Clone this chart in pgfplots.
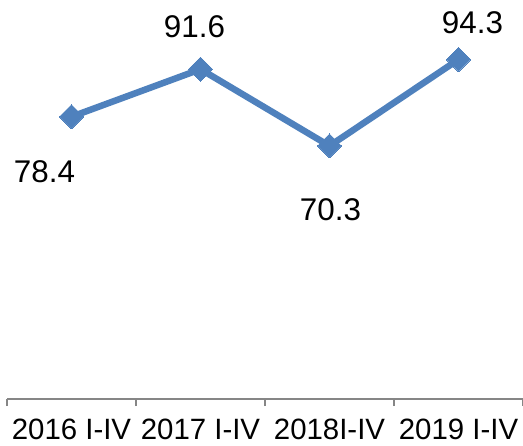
\documentclass[border=0pt]{standalone}
\usepackage{pgfplots}
\pgfplotsset{compat=1.18}
\usepackage{fontspec}
\setmainfont{Liberation Sans}
\definecolor{lineblue}{RGB}{79,129,189}
\definecolor{axisgray}{RGB}{134,134,134}
\begin{document}
\begin{tikzpicture}
\begin{axis}[
  name=ax,
  scale only axis,
  width=516bp, height=360bp,
  xmin=-0.5, xmax=3.5,
  ymin=0, ymax=100,
  hide y axis,
  axis x line=bottom,
  x axis line style={-, draw=axisgray, line width=1.3bp},
  xtick={-0.5,0.5,1.5,2.5,3.5},
  xticklabels={},
  tick align=outside,
  major tick length=7bp,
  every tick/.style={draw=axisgray, line width=1.3bp},
  extra x ticks={0,1,2,3},
  extra x tick labels={2016 I-IV,2017 I-IV,2018I-IV,2019 I-IV},
  extra x tick style={major tick length=0pt, tick label style={font=\fontsize{29.5}{33}\selectfont, yshift=-16bp}},
  clip=false,
]
\addplot[color=lineblue, line width=6.5bp, mark=square*, mark size=8.5bp,
  mark options={rotate=45, fill=lineblue, draw=lineblue, line width=0pt}]
  coordinates {(0,78.4) (1,91.6) (2,70.3) (3,94.3)};
\node[font=\fontsize{31.5}{35}\selectfont] at (axis cs:0,78.4) [xshift=-27bp, yshift=-55bp] {78.4};
\node[font=\fontsize{31.5}{35}\selectfont] at (axis cs:1,91.6) [xshift=-6bp, yshift=43bp] {91.6};
\node[font=\fontsize{31.5}{35}\selectfont] at (axis cs:2,70.3) [xshift=1bp, yshift=-64bp] {70.3};
\node[font=\fontsize{31.5}{35}\selectfont] at (axis cs:3,94.3) [xshift=14bp, yshift=37bp] {94.3};
\end{axis}
\pgfresetboundingbox
\path[use as bounding box] ([xshift=-7bp, yshift=-47bp]ax.south west) rectangle ([yshift=39bp]ax.north east);
\end{tikzpicture}
\end{document}
